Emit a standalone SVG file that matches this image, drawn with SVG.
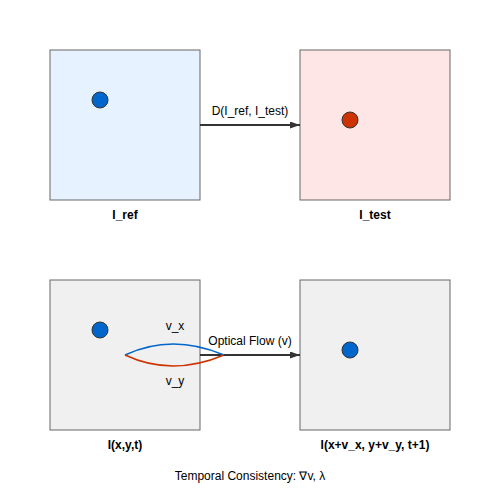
<svg xmlns="http://www.w3.org/2000/svg" width="500" height="500" viewBox="0 0 500 500">
<style>
.box{stroke:#666;stroke-width:1}
.lbl{font-family:"Liberation Sans",Arial,sans-serif;font-size:12px;font-weight:bold;text-anchor:middle;fill:#000}
.t{font-family:"Liberation Sans",Arial,sans-serif;font-size:12px;text-anchor:middle;fill:#000}
.dot{stroke:#333;stroke-width:1}
.arr{stroke:#333;stroke-width:2;fill:none;marker-end:url(#ah)}
</style>
<defs>
<marker id="ah" markerWidth="10" markerHeight="7" refX="10" refY="3.5" orient="auto" markerUnits="userSpaceOnUse">
<polygon points="0 0, 10 3.5, 0 7" fill="#333"/>
</marker>
</defs>
<rect width="500" height="500" fill="#fff"/>
<g id="ref">
<rect class="box" x="50" y="50" width="150" height="150" fill="#e6f2ff"/>
<circle class="dot" cx="100" cy="100" r="8" fill="#0066cc"/>
<text class="lbl" x="125" y="219">I_ref</text>
</g>
<g id="test">
<rect class="box" x="300" y="50" width="150" height="150" fill="#ffe6e6"/>
<circle class="dot" cx="350" cy="120" r="8" fill="#cc3300"/>
<text class="lbl" x="375" y="219">I_test</text>
</g>
<g id="frame1">
<rect class="box" x="50" y="280" width="150" height="150" fill="#f0f0f0"/>
<circle class="dot" cx="100" cy="330" r="8" fill="#0066cc"/>
<text class="lbl" x="125" y="449">I(x,y,t)</text>
</g>
<g id="frame2">
<rect class="box" x="300" y="280" width="150" height="150" fill="#f0f0f0"/>
<circle class="dot" cx="350" cy="350" r="8" fill="#0066cc"/>
<text class="lbl" x="375" y="449">I(x+v_x, y+v_y, t+1)</text>
</g>
<g id="connectors">
<line class="arr" x1="200" y1="125" x2="300" y2="125"/>
<text class="t" x="250" y="115">D(I_ref, I_test)</text>
<line class="arr" x1="200" y1="355" x2="300" y2="355"/>
<text class="t" x="250" y="345">Optical Flow (v)</text>
<path d="M125,355 Q172,333 224,355" stroke="#0066cc" stroke-width="1.5" fill="none"/>
<path d="M125,355 Q172,377 224,355" stroke="#cc3300" stroke-width="1.5" fill="none"/>
<text class="t" x="175" y="330">v_x</text>
<text class="t" x="175" y="385">v_y</text>
</g>
<text class="t" x="250" y="480">Temporal Consistency: ∇v, λ</text>
</svg>
